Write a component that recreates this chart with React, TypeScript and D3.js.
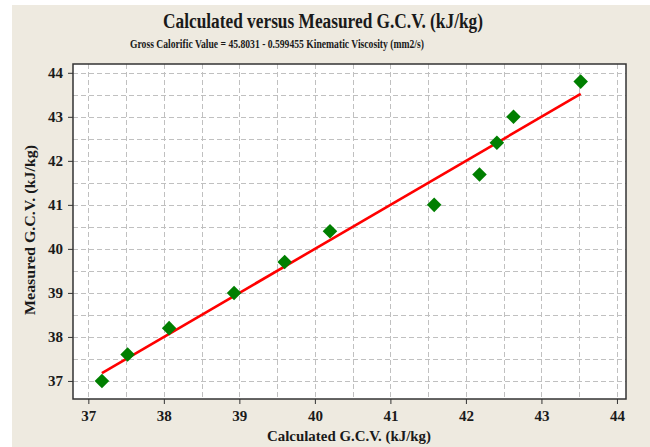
import * as d3 from "d3";
import { useEffect, useRef } from "react";

// calculated vs measured gross calorific value
const calculated = [37.18, 37.52, 38.07, 38.93, 39.6, 40.2, 41.58, 42.18, 42.41, 42.63, 43.52];
const measured = [37.0, 37.6, 38.2, 39.0, 39.7, 40.4, 41.0, 41.69, 42.41, 43.0, 43.8];
const xTicks = [37, 38, 39, 40, 41, 42, 43, 44];
const yTicks = [37, 38, 39, 40, 41, 42, 43, 44];
const xMinor = [37.5, 38.5, 39.5, 40.5, 41.5, 42.5, 43.5];
const yMinor = [37.5, 38.5, 39.5, 40.5, 41.5, 42.5, 43.5];

const W = 650;
const H = 447;
const FONT = "'Liberation Serif', serif";

function App() {
    const ref = useRef<SVGSVGElement>(null);

    useEffect(() => {
        const svg = d3.select(ref.current);
        svg.selectAll("*").remove();

        const plot = { left: 73, top: 64, right: 626, bottom: 399 };

        const x = d3.scaleLinear().domain([36.797, 44.12]).range([plot.left, plot.right]);
        const y = d3.scaleLinear().domain([36.59, 44.2]).range([plot.bottom, plot.top]);

        // background
        svg.append("rect")
            .attr("x", 12).attr("y", 5)
            .attr("width", W - 12).attr("height", H - 5)
            .attr("fill", "#eeeae0");

        svg.append("rect")
            .attr("x", plot.left).attr("y", plot.top)
            .attr("width", plot.right - plot.left).attr("height", plot.bottom - plot.top)
            .attr("fill", "#ffffff");

        // grid
        const grid = svg.append("g")
            .attr("stroke", "#c0c0c0")
            .attr("stroke-width", 1)
            .attr("stroke-dasharray", "5,3");

        grid.selectAll("line.vx")
            .data([...xTicks, ...xMinor])
            .join("line")
            .attr("class", "vx")
            .attr("x1", (d) => Math.round(x(d)) + 0.5)
            .attr("x2", (d) => Math.round(x(d)) + 0.5)
            .attr("y1", plot.top)
            .attr("y2", plot.bottom);

        grid.selectAll("line.hy")
            .data([...yTicks, ...yMinor])
            .join("line")
            .attr("class", "hy")
            .attr("y1", (d) => Math.round(y(d)) + 0.5)
            .attr("y2", (d) => Math.round(y(d)) + 0.5)
            .attr("x1", plot.left)
            .attr("x2", plot.right);

        // frame
        svg.append("rect")
            .attr("x", plot.left).attr("y", plot.top)
            .attr("width", plot.right - plot.left).attr("height", plot.bottom - plot.top)
            .attr("fill", "none")
            .attr("stroke", "#333")
            .attr("stroke-width", 1.5);

        // axes
        const xAxis = svg.append("g")
            .attr("transform", `translate(0,${plot.bottom})`)
            .call(d3.axisBottom(x).tickValues(xTicks).tickSize(5).tickPadding(6).tickFormat(d3.format("d")));
        xAxis.select(".domain").remove();

        const yAxis = svg.append("g")
            .attr("transform", `translate(${plot.left},0)`)
            .call(d3.axisLeft(y).tickValues(yTicks).tickSize(5).tickPadding(5).tickFormat(d3.format("d")));
        yAxis.select(".domain").remove();

        svg.selectAll(".tick line").attr("stroke", "#333");
        svg.selectAll(".tick text")
            .attr("font-family", FONT)
            .attr("font-weight", "bold")
            .attr("font-size", 15)
            .attr("fill", "#1a1a1a");

        // fitted line
        const ext = d3.extent(calculated) as [number, number];
        const line = d3.line<number>()
            .x((d) => x(d))
            .y((d) => y(d));
        svg.append("path")
            .attr("d", line(ext)!)
            .attr("fill", "none")
            .attr("stroke", "#ff0000")
            .attr("stroke-width", 2.6);

        // points
        const diamond = d3.symbol().type(d3.symbolDiamond2).size(135);
        svg.append("g")
            .selectAll("path")
            .data(calculated.map((c, i) => [c, measured[i]]))
            .join("path")
            .attr("transform", (d) => `translate(${x(d[0])},${y(d[1])})`)
            .attr("d", diamond()!)
            .attr("fill", "#007f00");

        // titles
        svg.append("text")
            .attr("x", 323).attr("y", 28)
            .attr("text-anchor", "middle")
            .attr("font-family", FONT)
            .attr("font-weight", "bold")
            .attr("font-size", 20)
            .attr("textLength", 320)
            .attr("lengthAdjust", "spacingAndGlyphs")
            .attr("fill", "#1a1a1a")
            .text("Calculated versus Measured G.C.V. (kJ/kg)");

        svg.append("text")
            .attr("x", 277).attr("y", 48)
            .attr("text-anchor", "middle")
            .attr("font-family", FONT)
            .attr("font-weight", "bold")
            .attr("font-size", 12.5)
            .attr("textLength", 294)
            .attr("lengthAdjust", "spacingAndGlyphs")
            .attr("fill", "#1a1a1a")
            .text("Gross Calorific Value = 45.8031 - 0.599455 Kinematic Viscosity (mm2/s)");

        svg.append("text")
            .attr("x", 349).attr("y", 441)
            .attr("text-anchor", "middle")
            .attr("font-family", FONT)
            .attr("font-weight", "bold")
            .attr("font-size", 14.5)
            .attr("textLength", 164)
            .attr("lengthAdjust", "spacingAndGlyphs")
            .attr("fill", "#1a1a1a")
            .text("Calculated G.C.V. (kJ/kg)");

        svg.append("text")
            .attr("transform", `translate(35,230) rotate(-90)`)
            .attr("text-anchor", "middle")
            .attr("font-family", FONT)
            .attr("font-weight", "bold")
            .attr("font-size", 14.5)
            .attr("textLength", 170)
            .attr("lengthAdjust", "spacingAndGlyphs")
            .attr("fill", "#1a1a1a")
            .text("Measured G.C.V. (kJ/kg)");
    }, []);

    return (
        <svg
            ref={ref}
            width={W}
            height={H}
            style={{ position: "absolute", left: 0, top: 0, display: "block" }}
        />
    );
}

export default App;
